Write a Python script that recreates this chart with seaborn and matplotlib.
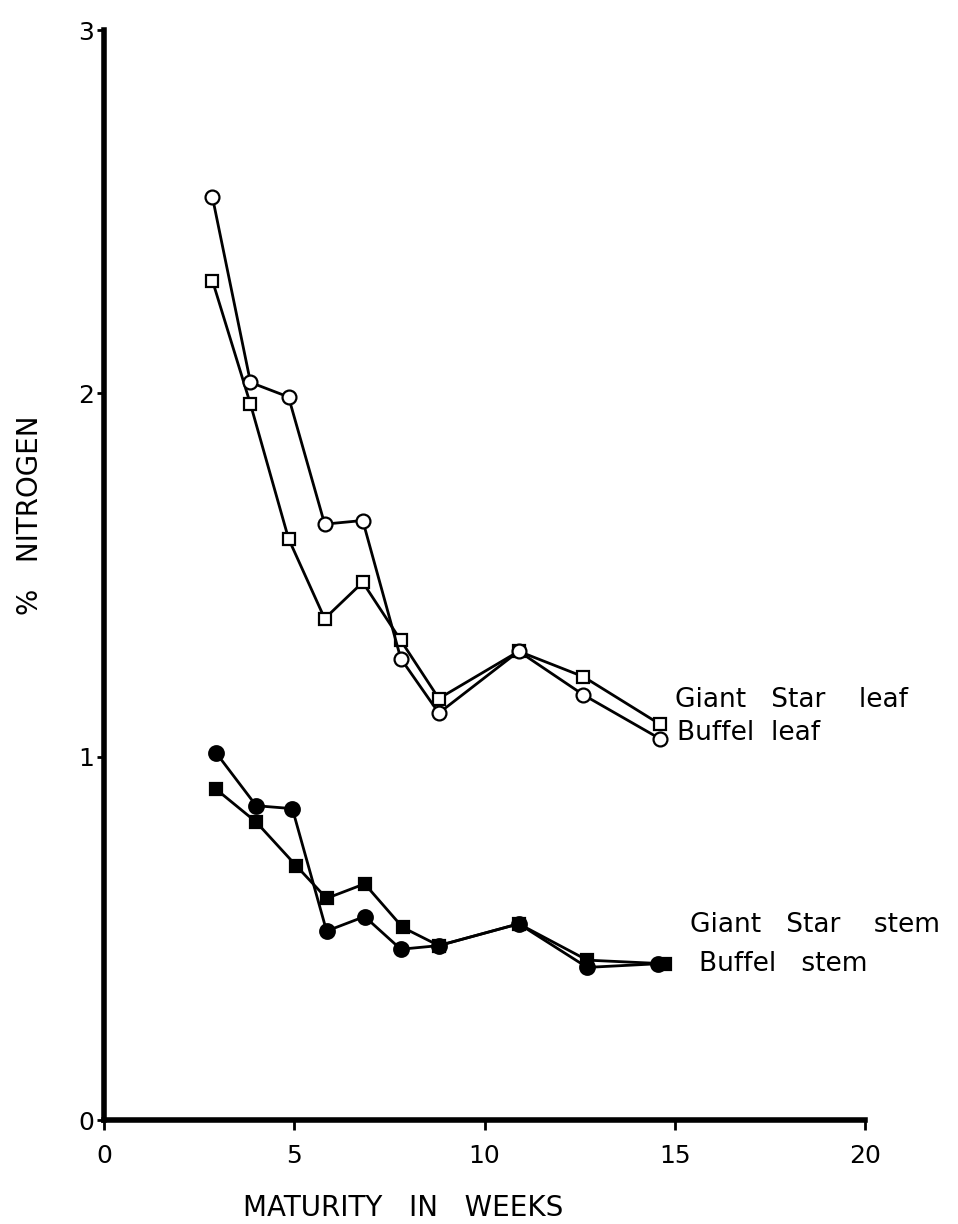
import matplotlib
matplotlib.use("Agg")
import matplotlib.pyplot as plt
import seaborn as sns
import pandas as pd

sns.set_theme(style="white")
plt.rcParams["font.family"] = ["DejaVu Sans"]

# Weeks of maturity at which each sample was taken
weeks_leaf = [2.85, 3.85, 4.85, 5.8, 6.8, 7.8, 8.8, 10.9, 12.6, 14.6]
weeks_stem_gs = [2.95, 4.0, 5.05, 5.85, 6.85, 7.85, 8.8, 10.9, 12.7, 14.75]
weeks_stem_bf = [2.95, 4.0, 4.95, 5.85, 6.85, 7.8, 8.8, 10.9, 12.7, 14.55]

# Percent nitrogen
giant_star_leaf = [2.31, 1.97, 1.60, 1.38, 1.48, 1.32, 1.16, 1.29, 1.22, 1.09]
buffel_leaf = [2.54, 2.03, 1.99, 1.64, 1.65, 1.27, 1.12, 1.29, 1.17, 1.05]
giant_star_stem = [0.91, 0.82, 0.70, 0.61, 0.65, 0.53, 0.48, 0.54, 0.44, 0.43]
buffel_stem = [1.01, 0.865, 0.857, 0.52, 0.56, 0.47, 0.48, 0.54, 0.42, 0.43]

x_ticks = [0, 5, 10, 15, 20]
y_ticks = [0, 1, 2, 3]

fig = plt.figure(figsize=(9.58, 12.24), dpi=100)
ax = fig.add_axes([104 / 958, 104 / 1224, 761 / 958, 1090 / 1224])

series = [
    (weeks_leaf, giant_star_leaf, "s", "white", 8.5),
    (weeks_leaf, buffel_leaf, "o", "white", 10),
    (weeks_stem_gs, giant_star_stem, "s", "black", 8.5),
    (weeks_stem_bf, buffel_stem, "o", "black", 10.5),
]
for xs, ys, mk, face, size in series:
    df = pd.DataFrame({"week": xs, "nitrogen": ys})
    sns.lineplot(data=df, x="week", y="nitrogen", ax=ax, sort=False,
                 estimator=None, color="black", linewidth=2.0,
                 marker=mk, markersize=size, markerfacecolor=face,
                 markeredgecolor="black", markeredgewidth=1.6)

ax.set_xlim(0, 20)
ax.set_ylim(0, 3)
ax.set_xticks(x_ticks)
ax.set_yticks(y_ticks)
ax.set_xticklabels([str(t) for t in x_ticks], fontsize=18)
ax.set_yticklabels([str(t) for t in y_ticks], fontsize=18)
ax.tick_params(axis="x", direction="out", length=7, width=2, pad=10,
               bottom=True, colors="black")
ax.tick_params(axis="y", direction="out", length=5, width=2, pad=2,
               left=True, colors="black")
for side in ("top", "right"):
    ax.spines[side].set_visible(False)
for side in ("left", "bottom"):
    ax.spines[side].set_linewidth(4)
    ax.spines[side].set_color("black")
ax.set_xlabel("")
ax.set_ylabel("")

label_kw = dict(fontsize=19, color="black", va="center", ha="left")
ax.text(15.0, 1.157, "Giant   Star    leaf", **label_kw)
ax.text(15.05, 1.066, "Buffel  leaf", **label_kw)
ax.text(15.4, 0.537, "Giant   Star    stem", **label_kw)
ax.text(15.65, 0.43, "Buffel   stem", **label_kw)

fig.text(403 / 958, 1 - 1208 / 1224, "MATURITY   IN   WEEKS", fontsize=20,
         ha="center", va="center", color="black")
fig.text(30 / 958, 1 - 515 / 1224, "%   NITROGEN", fontsize=20,
         rotation=90, ha="center", va="center", color="black")

fig.savefig("out.png", dpi=100, facecolor="white")
